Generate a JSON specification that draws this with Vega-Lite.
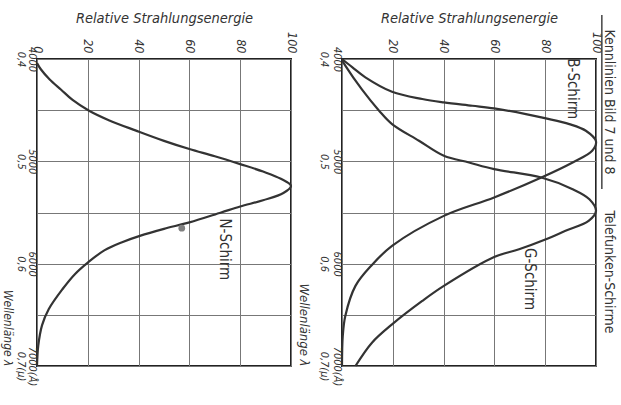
{
  "$schema": "https://vega.github.io/schema/vega-lite/v6.json",
  "background": "white",
  "padding": {"left": 0, "top": 9, "right": 0, "bottom": 0},
  "bounds": "flush",
  "spacing": 51,
  "config": {
    "font": "DejaVu Sans Condensed, DejaVu Sans, sans-serif",
    "view": {"stroke": "#222", "strokeWidth": 2},
    "axis": {
      "grid": true, "gridColor": "#777", "gridOpacity": 1, "gridWidth": 1, "domain": false, "ticks": false,
      "labelColor": "#333", "titleColor": "#333", "labelFontStyle": "italic",
      "titleFontStyle": "italic", "titleFontWeight": "normal",
      "labelFlush": false, "labelBound": false, "labelOverlap": false
    }
  },
  "datasets": {
    "curves": [
      {"s": "N", "wl": 4040, "e": 0}, {"s": "N", "wl": 4100, "e": 1.5}, {"s": "N", "wl": 4200, "e": 5},
      {"s": "N", "wl": 4300, "e": 9.5}, {"s": "N", "wl": 4400, "e": 14}, {"s": "N", "wl": 4505, "e": 20.5},
      {"s": "N", "wl": 4600, "e": 28.5}, {"s": "N", "wl": 4700, "e": 39}, {"s": "N", "wl": 4800, "e": 50},
      {"s": "N", "wl": 4880, "e": 60}, {"s": "N", "wl": 4950, "e": 70}, {"s": "N", "wl": 5027, "e": 80},
      {"s": "N", "wl": 5100, "e": 89}, {"s": "N", "wl": 5170, "e": 96}, {"s": "N", "wl": 5240, "e": 100},
      {"s": "N", "wl": 5310, "e": 97}, {"s": "N", "wl": 5380, "e": 89}, {"s": "N", "wl": 5441, "e": 80},
      {"s": "N", "wl": 5500, "e": 72.5}, {"s": "N", "wl": 5597, "e": 60}, {"s": "N", "wl": 5660, "e": 50},
      {"s": "N", "wl": 5728, "e": 40.5}, {"s": "N", "wl": 5790, "e": 33.5}, {"s": "N", "wl": 5870, "e": 26.5},
      {"s": "N", "wl": 5989, "e": 20}, {"s": "N", "wl": 6100, "e": 15}, {"s": "N", "wl": 6250, "e": 10},
      {"s": "N", "wl": 6445, "e": 4.6}, {"s": "N", "wl": 6600, "e": 2}, {"s": "N", "wl": 6800, "e": 0.5},
      {"s": "N", "wl": 7000, "e": 0},

      {"s": "B", "wl": 4000, "e": 0}, {"s": "B", "wl": 4080, "e": 4}, {"s": "B", "wl": 4179, "e": 9.2},
      {"s": "B", "wl": 4320, "e": 19.7}, {"s": "B", "wl": 4391, "e": 31.6}, {"s": "B", "wl": 4424, "e": 40.1},
      {"s": "B", "wl": 4457, "e": 51.3}, {"s": "B", "wl": 4483, "e": 59.9}, {"s": "B", "wl": 4538, "e": 72.4},
      {"s": "B", "wl": 4580, "e": 80.3}, {"s": "B", "wl": 4636, "e": 89.5}, {"s": "B", "wl": 4701, "e": 96},
      {"s": "B", "wl": 4805, "e": 100}, {"s": "B", "wl": 4897, "e": 98.5}, {"s": "B", "wl": 5011, "e": 90.8},
      {"s": "B", "wl": 5158, "e": 78.5}, {"s": "B", "wl": 5353, "e": 59.9}, {"s": "B", "wl": 5533, "e": 40.1},
      {"s": "B", "wl": 5826, "e": 19.7}, {"s": "B", "wl": 6012, "e": 11.8}, {"s": "B", "wl": 6217, "e": 5.3},
      {"s": "B", "wl": 6511, "e": 1.3}, {"s": "B", "wl": 6707, "e": 0.3}, {"s": "B", "wl": 7000, "e": 0},

      {"s": "G", "wl": 4010, "e": 0}, {"s": "G", "wl": 4065, "e": 1.3}, {"s": "G", "wl": 4300, "e": 7.9},
      {"s": "G", "wl": 4505, "e": 14.6}, {"s": "G", "wl": 4636, "e": 19.7}, {"s": "G", "wl": 4799, "e": 30.3},
      {"s": "G", "wl": 4946, "e": 40.1}, {"s": "G", "wl": 5011, "e": 50}, {"s": "G", "wl": 5076, "e": 59.9},
      {"s": "G", "wl": 5158, "e": 78.5}, {"s": "G", "wl": 5272, "e": 90.8}, {"s": "G", "wl": 5370, "e": 97.4},
      {"s": "G", "wl": 5484, "e": 100}, {"s": "G", "wl": 5582, "e": 97.1}, {"s": "G", "wl": 5679, "e": 88},
      {"s": "G", "wl": 5761, "e": 80.3}, {"s": "G", "wl": 5859, "e": 69.7}, {"s": "G", "wl": 5935, "e": 59.9},
      {"s": "G", "wl": 6217, "e": 40.1}, {"s": "G", "wl": 6364, "e": 31.6}, {"s": "G", "wl": 6593, "e": 19.7},
      {"s": "G", "wl": 6772, "e": 11.8}, {"s": "G", "wl": 7000, "e": 5.3}
    ],
    "notes": [
      {"p": "L", "text": "N-Schirm", "e": 74, "wl": 5860, "size": "m"},
      {"p": "R", "text": "B-Schirm", "e": 90.8, "wl": 4290, "size": "m"},
      {"p": "R", "text": "G-Schirm", "e": 74, "wl": 6150, "size": "m"},
      {"p": "R", "text": "Kennlinien Bild 7 und 8", "e": 105.3, "wl": 4420, "size": "h"},
      {"p": "R", "text": "Telefunken-Schirme", "e": 105.3, "wl": 6081, "size": "h"}
    ]
  },
  "hconcat": [
    {
      "width": 254, "height": 307,
      "layer": [
        {
          "data": {"name": "curves"},
          "transform": [{"filter": "datum.s == 'N'"}],
          "mark": {"type": "line", "interpolate": "catmull-rom", "color": "#333", "strokeWidth": 2.2},
          "encoding": {
            "x": {"field": "e", "type": "quantitative", "scale": {"domain": [0, 100], "nice": false},
              "axis": {"orient": "top", "grid": true, "values": [0, 20, 40, 60, 80, 100], "labelAngle": 90, "labelAlign": "right", "labelBaseline": "middle", "labelFontSize": 12.5, "labelPadding": 6, "title": "Relative Strahlungsenergie", "titleFontSize": 14.5, "titlePadding": 6}},
            "y": {"field": "wl", "type": "quantitative", "scale": {"domain": [4000, 7000], "reverse": true, "zero": false, "nice": false},
              "axis": {"orient": "left", "grid": true, "values": [4000, 4500, 5000, 5500, 6000, 6500, 7000],
                "labelExpr": "datum.value == 4000 ? ['4000', '0,4'] : datum.value == 5000 ? ['5000', '0,5'] : datum.value == 6000 ? ['6000', '0,6'] : datum.value == 7000 ? ['7000(Å)', '0,7(µ)'] : ''",
                "labelAngle": 90, "labelAlign": "center", "labelBaseline": "top", "labelFontSize": 11, "labelLineHeight": 11, "labelPadding": 0,
                "title": "Wellenlänge λ", "titleAngle": 90, "titleAnchor": "end", "titleFontSize": 12, "titlePadding": 15}},
            "detail": {"field": "s"},
            "order": {"field": "wl", "type": "quantitative"}
          }
        },
        {
          "data": {"values": [{"e": 57, "wl": 5653}]},
          "mark": {"type": "point", "filled": true, "color": "#808080", "size": 45, "opacity": 1},
          "encoding": {
            "x": {"field": "e", "type": "quantitative"},
            "y": {"field": "wl", "type": "quantitative"}
          }
        },
        {
          "data": {"name": "notes"},
          "transform": [{"filter": "datum.p == 'L'"}],
          "mark": {"type": "text", "angle": 90, "fontSize": 15, "color": "#333", "align": "center", "baseline": "middle"},
          "encoding": {
            "x": {"field": "e", "type": "quantitative"},
            "y": {"field": "wl", "type": "quantitative"},
            "text": {"field": "text"}
          }
        }
      ]
    },
    {
      "width": 254, "height": 307,
      "layer": [
        {
          "data": {"name": "curves"},
          "transform": [{"filter": "datum.s != 'N'"}],
          "mark": {"type": "line", "interpolate": "catmull-rom", "color": "#333", "strokeWidth": 2.2},
          "encoding": {
            "x": {"field": "e", "type": "quantitative", "scale": {"domain": [0, 100], "nice": false},
              "axis": {"orient": "top", "grid": true, "values": [0, 20, 40, 60, 80, 100], "labelExpr": "datum.value == 0 ? '' : datum.label", "labelAngle": 90, "labelAlign": "right", "labelBaseline": "middle", "labelFontSize": 12.5, "labelPadding": 6, "title": "Relative Strahlungsenergie", "titleFontSize": 14.5, "titlePadding": 6}},
            "y": {"field": "wl", "type": "quantitative", "scale": {"domain": [4000, 7000], "reverse": true, "zero": false, "nice": false},
              "axis": {"orient": "left", "grid": true, "values": [4000, 4500, 5000, 5500, 6000, 6500, 7000],
                "labelExpr": "datum.value == 4000 ? ['4000', '0,4'] : datum.value == 5000 ? ['5000', '0,5'] : datum.value == 6000 ? ['6000', '0,6'] : datum.value == 7000 ? ['7000(Å)', '0,7(µ)'] : ''",
                "labelAngle": 90, "labelAlign": "center", "labelBaseline": "top", "labelFontSize": 11, "labelLineHeight": 13, "labelPadding": 0,
                "title": "Wellenlänge λ", "titleAngle": 90, "titleAnchor": "end", "titleFontSize": 13, "titlePadding": 22}},
            "detail": {"field": "s"},
            "order": {"field": "wl", "type": "quantitative"}
          }
        },
        {
          "data": {"values": [{"e": 102.3, "wl": 3570, "wl2": 5270}]},
          "mark": {"type": "rule", "color": "#444", "strokeWidth": 1.5},
          "encoding": {
            "x": {"field": "e", "type": "quantitative"},
            "y": {"field": "wl", "type": "quantitative"},
            "y2": {"field": "wl2"}
          }
        },
        {
          "data": {"name": "notes"},
          "transform": [{"filter": "datum.p == 'R'"}],
          "mark": {"type": "text", "angle": 90, "color": "#333", "align": "center", "baseline": "middle"},
          "encoding": {
            "x": {"field": "e", "type": "quantitative"},
            "y": {"field": "wl", "type": "quantitative"},
            "text": {"field": "text"},
            "size": {"condition": {"test": "datum.size == 'h'", "value": 14}, "value": 15},
            "fontStyle": {"condition": {"test": "datum.size == 'h'", "value": "italic"}, "value": "normal"}
          }
        }
      ]
    }
  ]
}
